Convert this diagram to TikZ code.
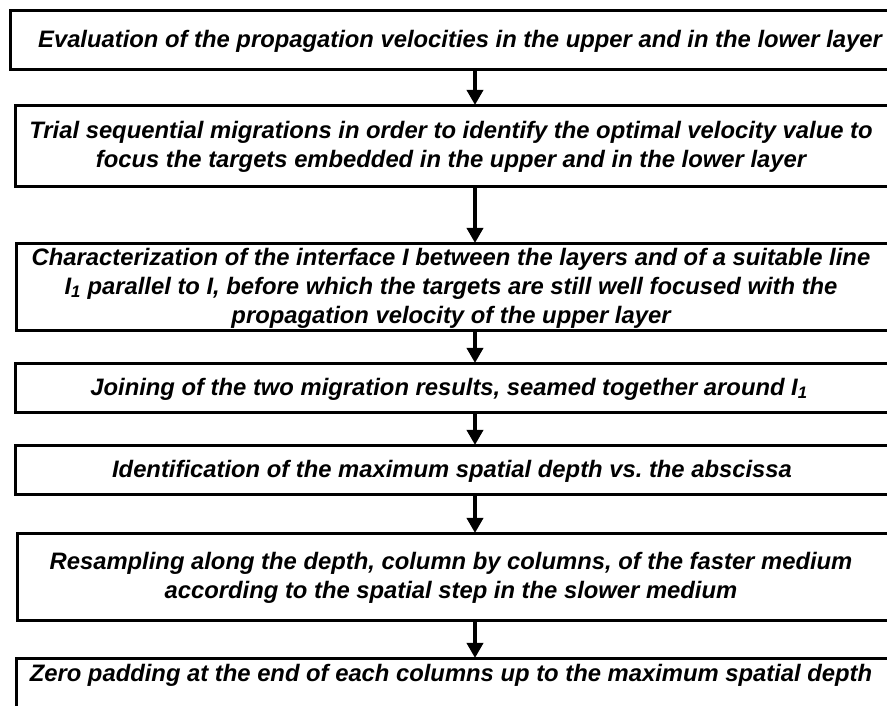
\documentclass[tikz,border=0pt]{standalone}
\usepackage{fontspec}
\setmainfont{Liberation Sans}
\usetikzlibrary{arrows.meta}
\frenchspacing
\tikzset{
  stepbox/.style={draw=black, line width=2.8pt, fill=white, rectangle, inner sep=0pt, anchor=north west},
  steptext/.style={font=\fontsize{23.8}{29}\selectfont\bfseries\itshape, align=center, inner sep=0pt},
  flowarrow/.style={line width=3.5pt, -{Triangle[width=16pt,length=15pt]}, shorten >=-1pt}
}
\begin{document}
\begin{tikzpicture}[x=1pt,y=1pt]
\useasboundingbox (0,0) rectangle (887,706);
\clip (0,0) rectangle (887,706);
\fill[white] (0,0) rectangle (887,706);
% boxes (frames)
\node[stepbox, minimum width=902pt, minimum height=59pt] (b1) at (9,697) {};
\node[stepbox, minimum width=876pt, minimum height=81pt] (b2) at (14,602) {};
\node[stepbox, minimum width=876pt, minimum height=87pt] (b3) at (15,464) {};
\node[stepbox, minimum width=876pt, minimum height=49pt] (b4) at (14,344) {};
\node[stepbox, minimum width=876pt, minimum height=49pt] (b5) at (14,262) {};
\node[stepbox, minimum width=876pt, minimum height=87pt] (b6) at (16,174) {};
\node[stepbox, minimum width=876pt, minimum height=100pt] (b7) at (15,49) {};
% texts
\node[steptext] (t1) at (460,665) {Evaluation of the propagation velocities in the upper and in the lower layer};
\node[steptext] (t2) at (451,559) {Trial sequential migrations in order to identify the optimal velocity value to\\focus the targets embedded in the upper and in the lower layer};
\node[steptext] (t3) at (451,418) {Characterization of the interface I between the layers and of a suitable line\\I\textsubscript{1} parallel to I, before which the targets are still well focused with the\\propagation velocity of the upper layer};
\node[steptext] (t4) at (449,317) {Joining of the two migration results, seamed together around I\textsubscript{1}};
\node[steptext] (t5) at (452,235) {Identification of the maximum spatial depth vs. the abscissa};
\node[steptext] (t6) at (451,128) {Resampling along the depth, column by columns, of the faster medium\\according to the spatial step in the slower medium};
\node[steptext] (t7) at (451,31) {Zero padding at the end of each columns up to the maximum spatial depth};
% arrows
\coordinate (ax) at (475,0);
\draw[flowarrow] (b1.south -| ax) -- (b2.north -| ax);
\draw[flowarrow] (b2.south -| ax) -- (b3.north -| ax);
\draw[flowarrow] (b3.south -| ax) -- (b4.north -| ax);
\draw[flowarrow] (b4.south -| ax) -- (b5.north -| ax);
\draw[flowarrow] (b5.south -| ax) -- (b6.north -| ax);
\draw[flowarrow] (b6.south -| ax) -- (b7.north -| ax);
\end{tikzpicture}
\end{document}
